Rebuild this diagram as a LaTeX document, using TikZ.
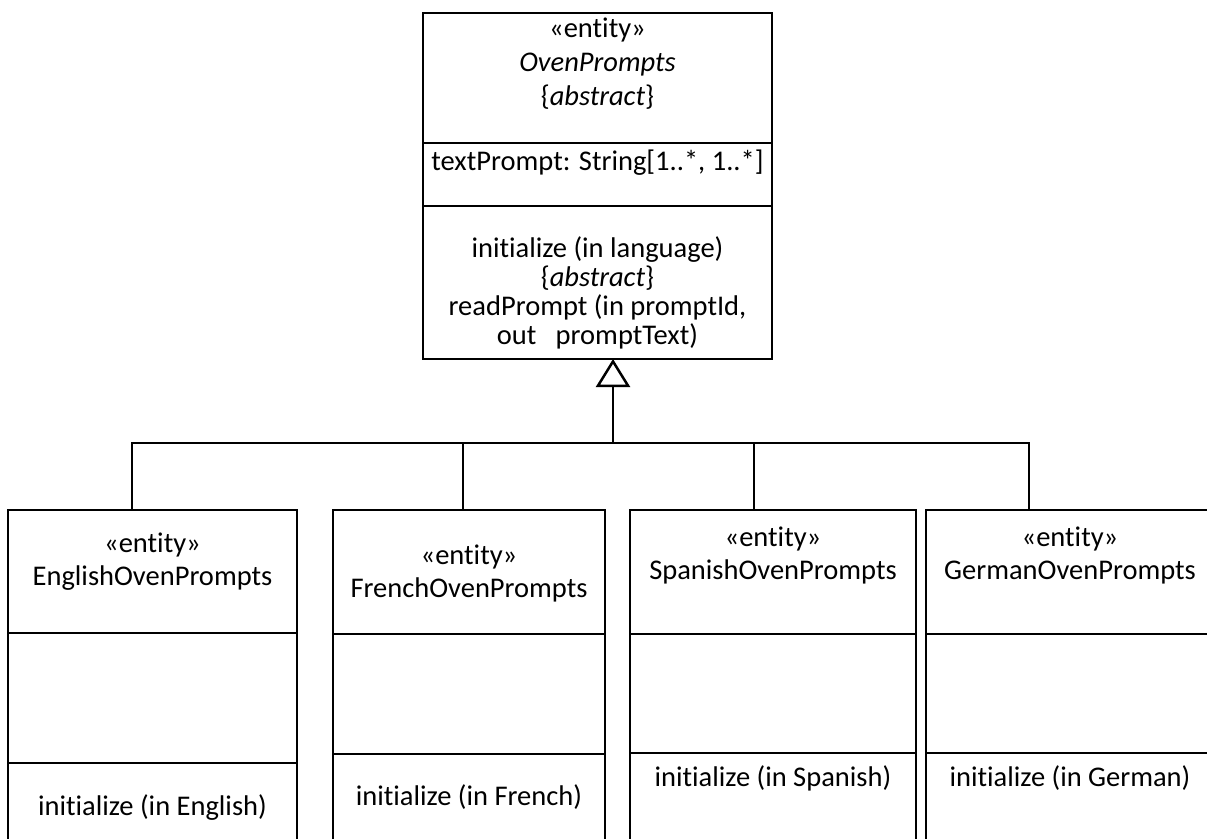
\documentclass[tikz,border=0pt]{standalone}
\usepackage{fontspec}
\setmainfont{Carlito}[Ligatures=NoCommon]
\usetikzlibrary{arrows.meta,positioning}

\tikzset{
  compart/.style={draw, line width=2.5pt, anchor=north west, inner sep=0pt, outer sep=0pt},
  umltext/.style={align=center, inner sep=0pt, font=\fontsize{28.5}{29}\selectfont},
  wire/.style={line width=2.5pt},
  inherit/.style={wire, -{Triangle[open, width=34pt, length=28pt, line width=2.5pt]}},
}

\begin{document}
\begin{tikzpicture}[x=1pt, y=-1pt]
  \useasboundingbox (0,0) rectangle (1207,838);
  \clip (0,0) rectangle (1207,838);

  % abstract parent class
  \node[compart, minimum width=349pt, minimum height=130pt] (op-name) at (423,13) {};
  \node[compart, minimum width=349pt, minimum height=63pt] (op-attr) at (op-name.south west) {};
  \node[compart, minimum width=349pt, minimum height=153pt] (op-meth) at (op-attr.south west) {};
  \node[umltext] (op-name-txt) at (597.5,64)
    {«entity»\\[5pt]\textit{OvenPrompts}\\[5pt]\{\textit{abstract}\}};
  \node[umltext] (op-attr-txt) at (597.5,163) {textPrompt: String[1..*, 1..*]};
  \node[umltext] (op-meth-txt) at (597.5,293)
    {initialize (in language)\\\{\textit{abstract}\}\\readPrompt (in promptId,\\out~~ promptText)};

  % language subclasses
  \foreach \id/\x/\w/\ha/\hb in {en/8/289/123/130, fr/333/272/124/120,
                                es/630/286/124/119, de/926/288/124/119} {
    \node[compart, minimum width=\w pt, minimum height=\ha pt] (\id-name) at (\x,510) {};
    \node[compart, minimum width=\w pt, minimum height=\hb pt] (\id-attr) at (\id-name.south west) {};
    \node[compart, minimum width=\w pt, minimum height=120pt] (\id-meth) at (\id-attr.south west) {};
  }
  \foreach \id/\cx/\ny/\iy/\lang in {en/152.5/561.5/808/English, fr/469/573/797/French,
                                     es/773/555.5/778/Spanish, de/1070/555.5/778/German} {
    \node[umltext] (\id-name-txt) at (\cx,\ny) {«entity»\\[4pt]\lang OvenPrompts};
    \node[umltext] (\id-meth-txt) at (\cx,\iy) {initialize (in \lang)};
  }

  % generalization
  \coordinate (bus) at (613,443);
  \draw[inherit] (bus) -- (bus |- op-meth.south);
  \foreach \id/\dx in {en/-20.5, fr/-6, es/-19, de/-41}
    \draw[wire] (bus) -| ([xshift=\dx pt]\id-name.north);
\end{tikzpicture}
\end{document}
